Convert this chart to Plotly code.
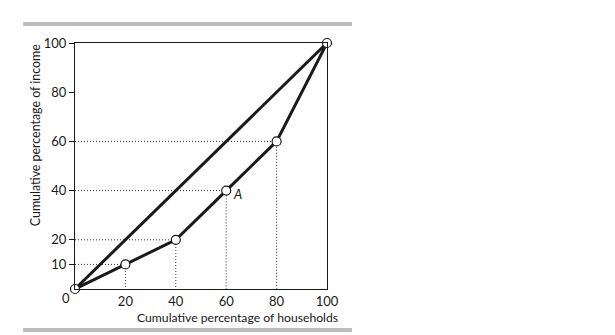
import plotly.graph_objects as go

# Lorenz curve data: cumulative % of households vs cumulative % of income
households = [0, 20, 40, 60, 80, 100]
income = [0, 10, 20, 40, 60, 100]
equality_x = [0, 100]
equality_y = [0, 100]
x_ticks = [20, 40, 60, 80, 100]
y_ticks = [10, 20, 40, 60, 80, 100]
point_label = "A"
point_label_index = 3

FONT = "Lato"
INK = "#1a1a1a"

fig = go.Figure()

# dotted guide lines from each interior point to both axes
gx, gy = [], []
for hx, iy in zip(households[1:-1], income[1:-1]):
    gx += [0, hx, hx, None]
    gy += [iy, iy, 0, None]
fig.add_trace(go.Scatter(x=gx, y=gy, mode="lines",
                         line=dict(color="#333333", width=1, dash="1px,2px"),
                         hoverinfo="skip", cliponaxis=False))

# line of equality
fig.add_trace(go.Scatter(x=equality_x, y=equality_y, mode="lines",
                         line=dict(color=INK, width=3), cliponaxis=False))

# Lorenz curve with open circle markers
fig.add_trace(go.Scatter(x=households, y=income, mode="lines+markers",
                         line=dict(color=INK, width=3),
                         marker=dict(symbol="circle", size=9, color="white",
                                     line=dict(color=INK, width=1.2)),
                         cliponaxis=False))

fig.add_annotation(x=households[point_label_index], y=income[point_label_index],
                   text="<i>" + point_label + "</i>", showarrow=False,
                   xanchor="left", yanchor="middle", xshift=5, yshift=-3,
                   font=dict(family=FONT, size=13, color=INK))

# origin label
fig.add_annotation(x=0, y=0, text="0", showarrow=False,
                   xanchor="center", yanchor="middle", xshift=-9, yshift=-9,
                   font=dict(family=FONT, size=13, color=INK))

# axis titles
fig.add_annotation(xref="paper", yref="paper", x=1.05, y=-0.115,
                   text="Cumulative percentage of households", showarrow=False,
                   xanchor="right", yanchor="middle",
                   font=dict(family=FONT, size=12.2, color=INK))
fig.add_annotation(xref="paper", yref="paper", x=-0.159, y=0.625,
                   text="Cumulative percentage of income", showarrow=False,
                   textangle=-90, xanchor="center", yanchor="middle",
                   font=dict(family=FONT, size=12.4, color=INK))

# grey rules above and below the figure
for y0, y1 in [(1.069, 1.085), (-0.175, -0.159)]:
    fig.add_shape(type="rect", xref="paper", yref="paper",
                  x0=-0.206, x1=1.099, y0=y0, y1=y1,
                  fillcolor="#bdbdbd", line=dict(width=0), layer="below")

fig.update_xaxes(range=[0, 100], tickvals=x_ticks, ticks="",
                 showline=True, linecolor=INK, linewidth=1, mirror=True,
                 showgrid=False, zeroline=False,
                 tickfont=dict(family=FONT, size=13, color=INK))
fig.update_yaxes(range=[0, 100], tickvals=y_ticks, ticks="outside", ticklen=5,
                 tickcolor=INK, tickwidth=1,
                 showline=True, linecolor=INK, linewidth=1, mirror=True,
                 showgrid=False, zeroline=False,
                 tickfont=dict(family=FONT, size=13, color=INK))

fig.update_layout(width=615, height=335,
                  margin=dict(l=75, r=288, t=43, b=46),
                  paper_bgcolor="white", plot_bgcolor="white",
                  showlegend=False)

fig.write_html("out.html")
